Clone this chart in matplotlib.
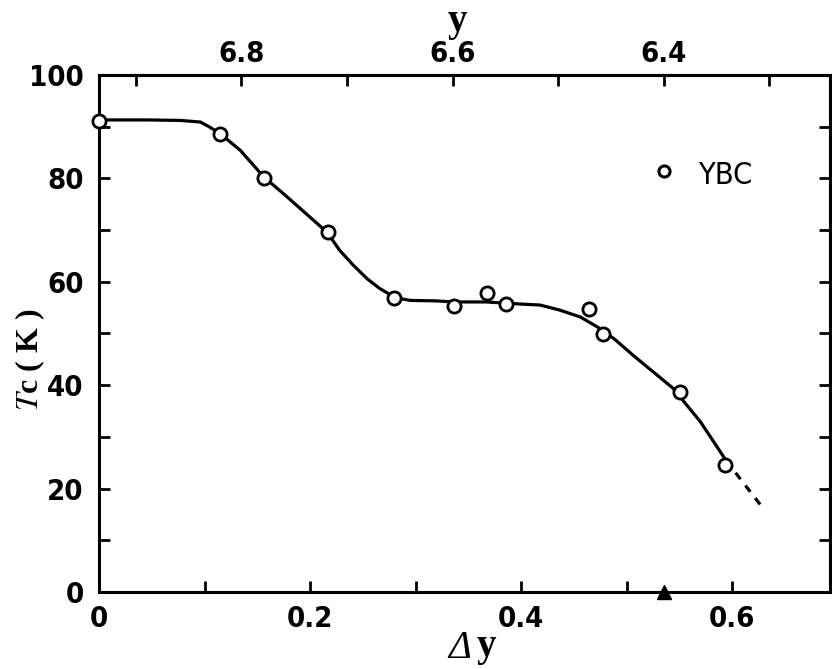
import matplotlib
matplotlib.use("Agg")
import matplotlib.pyplot as plt
from matplotlib.ticker import MultipleLocator

plt.rcParams['mathtext.fontset'] = 'stix'

# Measured Tc versus oxygen deficiency
delta_y = [0.0, 0.115, 0.156, 0.217, 0.280, 0.336, 0.368, 0.386, 0.464, 0.478, 0.551, 0.593]
tc_meas = [91.0, 88.6, 80.1, 69.6, 56.9, 55.3, 57.9, 55.8, 54.8, 49.9, 38.7, 24.5]

# Guide curve through the data
curve_dy = [0.0, 0.045, 0.077, 0.096, 0.105, 0.115, 0.134, 0.156, 0.175, 0.216,
            0.228, 0.241, 0.254, 0.266, 0.281, 0.295, 0.320, 0.336, 0.367, 0.399,
            0.418, 0.437, 0.456, 0.472, 0.488, 0.506, 0.525, 0.544, 0.570, 0.594]
curve_tc = [91.3, 91.3, 91.2, 90.9, 89.9, 88.6, 85.4, 80.3, 77.0, 69.6,
            66.1, 63.2, 60.6, 58.7, 56.9, 56.4, 56.3, 56.1, 56.1, 55.7,
            55.5, 54.5, 53.2, 51.3, 49.0, 45.8, 42.6, 39.4, 32.9, 25.5]
# Extrapolated tail
extrap_dy = [0.594, 0.627]
extrap_tc = [25.5, 16.8]

# Oxygen content scale on the top axis: y = Y0 - delta_y
Y0 = 6.935
top_ticks = [6.9, 6.8, 6.7, 6.6, 6.5, 6.4, 6.3]
top_labels = ['', '6.8', '', '6.6', '', '6.4', '']

# Marker on the bottom axis at y = 6.4
tri_dy = [Y0 - 6.4]
tri_tc = [0.0]

x_ticks = [0.0, 0.2, 0.4, 0.6]
x_labels = ['0', '0.2', '0.4', '0.6']
y_ticks = [0, 20, 40, 60, 80, 100]

tick_font = dict(family='DejaVu Sans', stretch='condensed', weight='bold', size=21)

fig = plt.figure(figsize=(8.32, 6.69), dpi=100)
ax = fig.add_axes([0.119, 0.115, 0.879, 0.773])

ax.plot(curve_dy, curve_tc, color='black', lw=2.3, solid_joinstyle='round',
        solid_capstyle='round', zorder=2)
ax.plot(extrap_dy, extrap_tc, color='black', lw=2.3, ls=(0, (2.5, 2.5)), zorder=2)
ax.plot(delta_y, tc_meas, ls='none', marker='o', ms=9.5, mfc='white', mec='black',
        mew=2.0, zorder=3, clip_on=False)
ax.plot(tri_dy, tri_tc, ls='none', marker='^', ms=10, color='black', zorder=4, clip_on=False)

ax.set_xlim(0.0, 0.693)
ax.set_ylim(0, 100)

ax.set_xticks(x_ticks)
ax.set_xticklabels(x_labels, fontdict=tick_font)
ax.set_yticks(y_ticks)
ax.set_yticklabels([str(v) for v in y_ticks], fontdict=tick_font)
ax.xaxis.set_minor_locator(MultipleLocator(0.1))
ax.yaxis.set_minor_locator(MultipleLocator(10))
ax.tick_params(which='both', direction='in', length=8, width=2.0, color='black')
ax.tick_params(axis='x', which='both', pad=9, top=False)
ax.tick_params(axis='y', which='both', pad=11, right=True, labelright=False)

for s in ax.spines.values():
    s.set_linewidth(2.2)

sec = ax.secondary_xaxis('top', functions=(lambda d: Y0 - d, lambda v: Y0 - v))
sec.set_xticks(top_ticks)
sec.set_xticklabels(top_labels, fontdict=tick_font)
sec.tick_params(direction='in', length=8, width=2.0, pad=5)
sec.spines['top'].set_linewidth(2.2)

# Legend entry
ax.plot([0.535], [81.5], ls='none', marker='o', ms=8, mfc='white', mec='black', mew=2.2)
ax.text(0.568, 80.5, 'YBC', fontsize=22, family='DejaVu Sans', stretch='condensed',
        va='center', ha='left')

# Axis titles
fig.text(0.550, 0.968, 'y', fontsize=28, family='Liberation Serif', weight='bold',
         ha='center', va='center')
fig.text(0.553, 0.030, 'Δ', fontsize=28, family='Liberation Serif', style='italic',
         ha='center', va='center')
fig.text(0.585, 0.034, 'y', fontsize=28, family='Liberation Serif', weight='bold',
         ha='center', va='center')
fig.text(0.036, 0.462, r'$\mathit{T}$c ( K )', fontsize=23, rotation=90,
         family='Liberation Serif', weight='bold', ha='center', va='center')

fig.savefig('out.png', dpi=100)
